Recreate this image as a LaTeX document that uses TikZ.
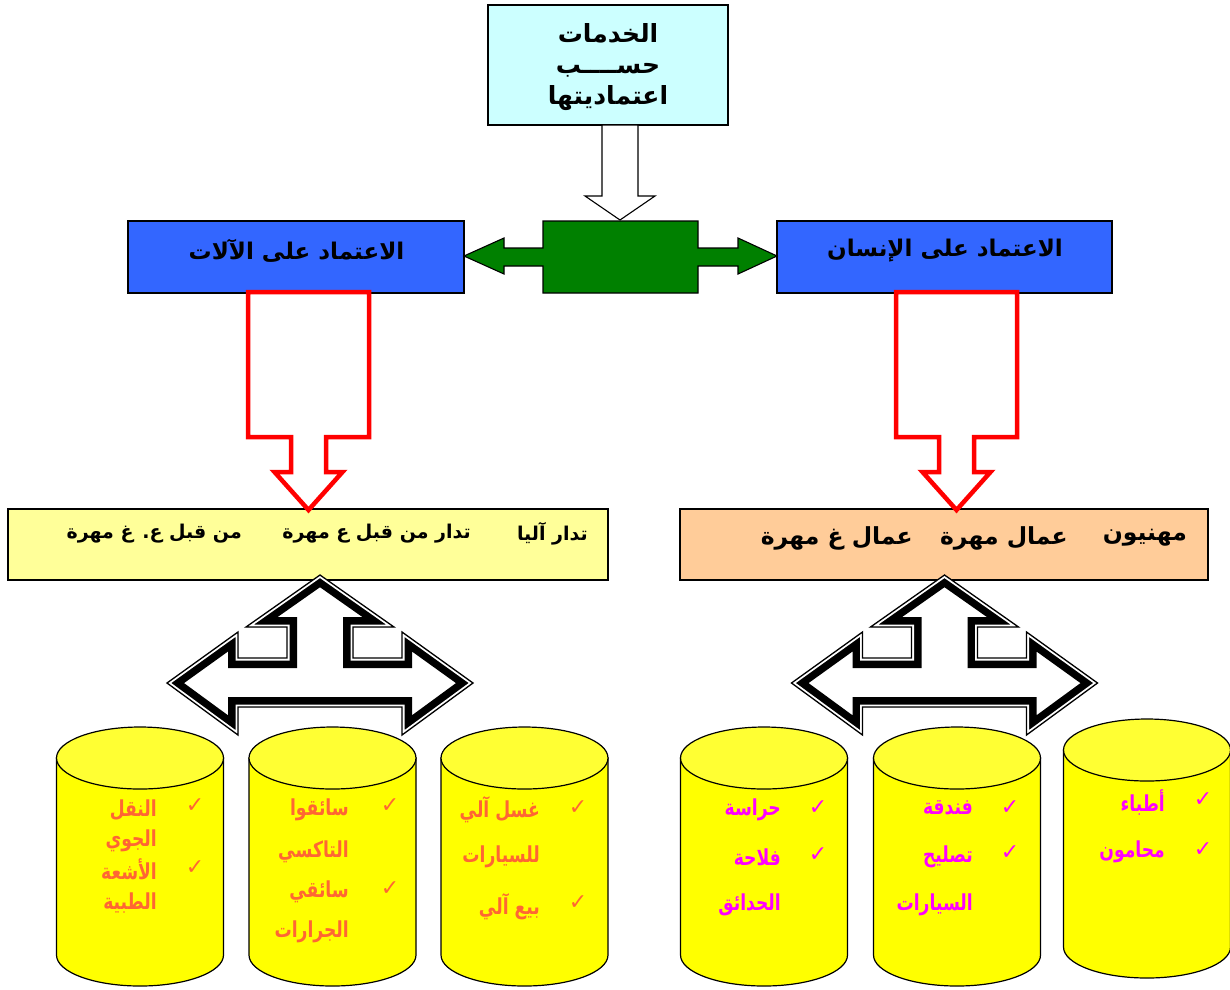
\documentclass[tikz,border=0pt]{standalone}
\usepackage{fontspec}
\usetikzlibrary{positioning}
\newfontfamily\arabicfont[Script=Arabic]{DejaVu Sans}
\newfontfamily\arabicnarrow[Script=Arabic, FakeStretch=0.78]{DejaVu Sans}
\newfontfamily\tickfont{DejaVu Sans}
\TeXXeTstate=1
\newcommand\artext[1]{\beginR#1\endR}

\definecolor{skyfill}{HTML}{CCFFFF}
\definecolor{bluefill}{HTML}{3366FF}
\definecolor{greenfill}{HTML}{008000}
\definecolor{lemonfill}{HTML}{FFFF99}
\definecolor{peachfill}{HTML}{FFCC99}
\definecolor{drumbody}{HTML}{FFFF00}
\definecolor{drumtop}{HTML}{FFFF33}
\definecolor{orangetext}{HTML}{FF6633}
\definecolor{pinktext}{HTML}{FF00FF}

\tikzset{
  % hollow three way arrow with a double border
  fork/.pic={
    \def\forkpath{(0,0) -- (-74,52) -- (-33,52) -- (-33,83) -- (-82,83) -- (-82,57) -- (-153,108)
      -- (-82,160) -- (-82,132) -- (82,132) -- (82,160) -- (153,108) -- (82,57) -- (82,83)
      -- (33,83) -- (33,52) -- (74,52) -- cycle}
    \fill[white] \forkpath;
    \begin{scope}
      \clip \forkpath;
      \draw[line width=20pt] \forkpath;
      \draw[white, line width=5pt] \forkpath;
    \end{scope}
    \draw[line width=1.3pt] \forkpath;
  },
  % red hollow arrow pointing down
  redarrow/.pic={
    \draw[red, line width=4.5pt, fill=white] (-60.5,0) -- (60.5,0) -- (60.5,145) -- (17.5,145)
      -- (17.5,180) -- (34,180) -- (0,218) -- (-34,180) -- (-17.5,180) -- (-17.5,145)
      -- (-60.5,145) -- cycle;
  },
  drum/.pic={
    \filldraw[fill=drumbody, line width=1.2pt] (-83.5,0) -- (-83.5,197)
      arc[start angle=180, end angle=0, x radius=83.5, y radius=31] -- (83.5,0) -- cycle;
    \filldraw[fill=drumtop, line width=1.2pt] (0,0) ellipse[x radius=83.5, y radius=31];
  }
}

\begin{document}
\begin{tikzpicture}[x=1pt, y=-1pt,
  box/.style={draw, line width=1.2pt, inner sep=0pt},
  title/.style={font=\arabicfont\bfseries\fontsize{25}{31}\selectfont, align=center},
  heading/.style={font=\arabicfont\bfseries\fontsize{23}{26}\selectfont},
  lemontext/.style={font=\arabicfont\bfseries\fontsize{19}{22}\selectfont, anchor=east, inner sep=0pt},
  peachtext/.style={font=\arabicfont\bfseries\fontsize{23.5}{26}\selectfont, anchor=east, inner sep=0pt},
  word/.style={font=\arabicnarrow\bfseries\fontsize{22}{25}\selectfont, anchor=east, inner sep=0pt},
  tick/.style={font=\tickfont\fontsize{22}{24}\selectfont, inner sep=0pt}]

\useasboundingbox (0,0) rectangle (1230,989);

% top box and the two kinds of services
\node[box, fill=skyfill, minimum width=240pt, minimum height=120pt] (services) at (608,65) {};
\node[title] (servicesText) at (608,67) {\artext{الخدمات}\\\artext{حســــب}\\\artext{اعتماديتها}};

\node[box, fill=bluefill, minimum width=336pt, minimum height=72pt] (machines) at (296,257) {};
\node[heading] (machinesText) at (296.5,251) {\artext{الاعتماد على الآلات}};
\node[box, fill=bluefill, minimum width=335pt, minimum height=72pt] (human) at (944.5,257) {};
\node[heading] (humanText) at (945,251) {\artext{الاعتماد على الإنسان}};

% arrows between the upper boxes
\draw[line width=1.1pt, fill=white] (602,125) -- (638,125) -- (638,196) -- (655,196) -- (620,220)
  -- (585,196) -- (602,196) -- cycle;
\draw[line width=1.1pt, fill=greenfill] (543,221) -- (698,221) -- (698,248) -- (738,248) -- (738,238)
  -- (777,256) -- (738,274) -- (738,266) -- (698,266) -- (698,293) -- (543,293) -- (543,266)
  -- (504,266) -- (504,274) -- (464,256) -- (504,238) -- (504,248) -- (543,248) -- cycle;

% second level
\node[box, fill=lemonfill, minimum width=600pt, minimum height=71pt] (machineJobs) at (308,544.5) {};
\node[lemontext] (auto) at (588,534) {\artext{تدار آليا}};
\node[lemontext] (skilled) at (471,534) {\artext{تدار من قبل ع مهرة}};
\node[lemontext] (unskilled) at (242,534) {\artext{من قبل ع. غ مهرة}};

\node[box, fill=peachfill, minimum width=528pt, minimum height=71pt] (humanJobs) at (944,544.5) {};
\node[peachtext] (pros) at (1187,538) {\artext{مهنيون}};
\node[peachtext] (skilledWorkers) at (1068,538) {\artext{عمال مهرة}};
\node[peachtext] (otherWorkers) at (913,538) {\artext{عمال غ مهرة}};

\pic at (308.5,292) {redarrow};
\pic at (956.5,292) {redarrow};

% drums with examples
\foreach \cx in {140,332.5,524.5,764,957}
  \pic at (\cx,758) {drum};
\pic at (1147,750) {drum};

\pic at (320,575) {fork};
\pic at (944.5,575) {fork};

\begin{scope}[every node/.append style={text=orangetext}]
  \foreach \y/\w [count=\i] in {810/النقل, 841/الجوي, 869/الأشعة, 903/الطبية}
    \node[word] (air-\i) at (157,\y) {\artext{\w}};
  \foreach \y [count=\i] in {806,868}
    \node[tick] (airTick-\i) at (195,\y) {✓};
  \foreach \y/\w [count=\i] in {810/سائقوا, 852/التاكسي, 892/سائقي, 932/الجرارات}
    \node[word] (drivers-\i) at (349,\y) {\artext{\w}};
  \foreach \y [count=\i] in {806,889}
    \node[tick] (driversTick-\i) at (390,\y) {✓};
  \foreach \y/\w [count=\i] in {810/غسل آلي, 857/للسيارات, 907/بيع آلي}
    \node[word] (wash-\i) at (540,\y) {\artext{\w}};
  \foreach \y [count=\i] in {808,903}
    \node[tick] (washTick-\i) at (578,\y) {✓};
\end{scope}

\begin{scope}[every node/.append style={text=pinktext}]
  \foreach \y/\w [count=\i] in {810/حراسة, 857/فلاحة, 905/الحدائق}
    \node[word] (guard-\i) at (781,\y) {\artext{\w}};
  \foreach \y [count=\i] in {808,855}
    \node[tick] (guardTick-\i) at (818,\y) {✓};
  \foreach \y/\w [count=\i] in {808/فندقة, 857/تصليح, 905/السيارات}
    \node[word] (hotel-\i) at (973,\y) {\artext{\w}};
  \foreach \y [count=\i] in {808,853}
    \node[tick] (hotelTick-\i) at (1010,\y) {✓};
  \foreach \y/\w [count=\i] in {802/أطباء, 852/محامون}
    \node[word] (doctors-\i) at (1165,\y) {\artext{\w}};
  \foreach \y [count=\i] in {800,850}
    \node[tick] (doctorsTick-\i) at (1203,\y) {✓};
\end{scope}
\end{tikzpicture}
\end{document}
